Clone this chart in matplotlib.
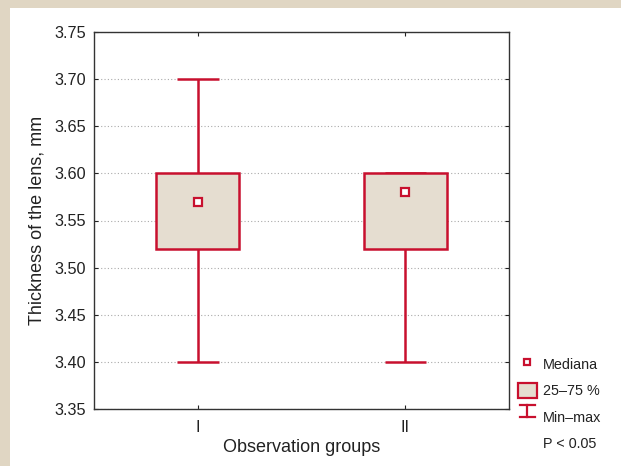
import matplotlib.pyplot as plt
import matplotlib.patches as mpatches
from matplotlib.lines import Line2D
from matplotlib.legend_handler import HandlerBase

plt.rcParams['font.family'] = ['Liberation Sans', 'DejaVu Sans']

groups = ['I', 'II']
medians = [3.57, 3.58]
q1 = [3.52, 3.52]
q3 = [3.60, 3.60]
mins = [3.40, 3.40]
maxs = [3.70, 3.60]
yticks = [3.35, 3.40, 3.45, 3.50, 3.55, 3.60, 3.65, 3.70, 3.75]

red = '#c8102e'
fill = '#e5ddd0'
beige = '#e0d6c3'


class MinMaxHandler(HandlerBase):
    # draws the little "I" shaped min-max symbol
    def create_artists(self, legend, orig_handle, xd, yd, width, height, fontsize, trans):
        cx = xd + width / 2
        w = width * 0.38
        h = height * 0.8
        y0 = yd + height / 2 - h / 2
        lines = [
            Line2D([cx, cx], [y0, y0 + h]),
            Line2D([cx - w, cx + w], [y0, y0]),
            Line2D([cx - w, cx + w], [y0 + h, y0 + h]),
        ]
        for ln in lines:
            ln.set_color(red)
            ln.set_linewidth(1.6)
            ln.set_transform(trans)
        return lines


fig = plt.figure(figsize=(6.21, 4.66), dpi=100)
fig.patch.set_facecolor(beige)
fig.patches.append(mpatches.Rectangle((10 / 621, 0), 1, 1 - 8 / 466,
                                      transform=fig.transFigure, facecolor='white',
                                      edgecolor='none', zorder=-10))

ax = fig.add_axes([94 / 621, 1 - 409 / 466, 415 / 621, 377 / 466])
ax.set_facecolor('white')

x = list(range(1, len(groups) + 1))
ax.bar(x, [b - a for a, b in zip(q1, q3)], bottom=q1, width=0.4,
       color=fill, edgecolor=red, linewidth=1.8, zorder=3)
ax.vlines(x, mins, q1, color=red, linewidth=1.8, zorder=2)
ax.vlines(x, q3, maxs, color=red, linewidth=1.8, zorder=2)
ax.hlines(mins, [i - 0.1 for i in x], [i + 0.1 for i in x], color=red, linewidth=1.8, zorder=2)
ax.hlines(maxs, [i - 0.1 for i in x], [i + 0.1 for i in x], color=red, linewidth=1.8, zorder=2)
ax.plot(x, medians, 's', markersize=5.5, markerfacecolor='white',
        markeredgecolor=red, markeredgewidth=1.6, zorder=4)

ax.set_xlim(0.5, 2.5)
ax.set_ylim(3.35, 3.75)
ax.set_xticks(x)
ax.set_xticklabels(groups)
ax.set_yticks(yticks)
ax.set_yticklabels([f'{v:.2f}' for v in yticks])
ax.grid(axis='y', color='#aaaaaa', linestyle=(0, (1, 2)), linewidth=0.8, zorder=1)
ax.tick_params(direction='in', length=3, top=True, right=True, labelsize=11.7, colors='#222222')
ax.tick_params(axis='y', pad=6)
ax.tick_params(axis='x', pad=8)
for s in ax.spines.values():
    s.set_color('#333333')
    s.set_linewidth(1.0)

ax.set_xlabel('Observation groups', fontsize=13, color='#222222', labelpad=3)
ax.set_ylabel('Thickness of the lens, mm', fontsize=13, color='#222222', labelpad=6)

handles = [
    Line2D([], [], linestyle='none', marker='s', markersize=5, markerfacecolor='white',
           markeredgecolor=red, markeredgewidth=1.6),
    mpatches.Patch(facecolor=fill, edgecolor=red, linewidth=1.6),
    'minmax',
    mpatches.Patch(visible=False),
]
labels = ['Mediana', '25\u201375 %', 'Min\u2013max', 'P < 0.05']
leg = fig.legend(handles, labels, loc='upper left', bbox_to_anchor=(505 / 621, 1 - 343 / 466),
                 frameon=False, fontsize=10.4, handlelength=1.3, handleheight=1.3,
                 handletextpad=0.45, labelspacing=0.75,
                 handler_map={str: MinMaxHandler()})
for t in leg.get_texts():
    t.set_color('#222222')

fig.savefig('out.png', dpi=100, facecolor=beige)
